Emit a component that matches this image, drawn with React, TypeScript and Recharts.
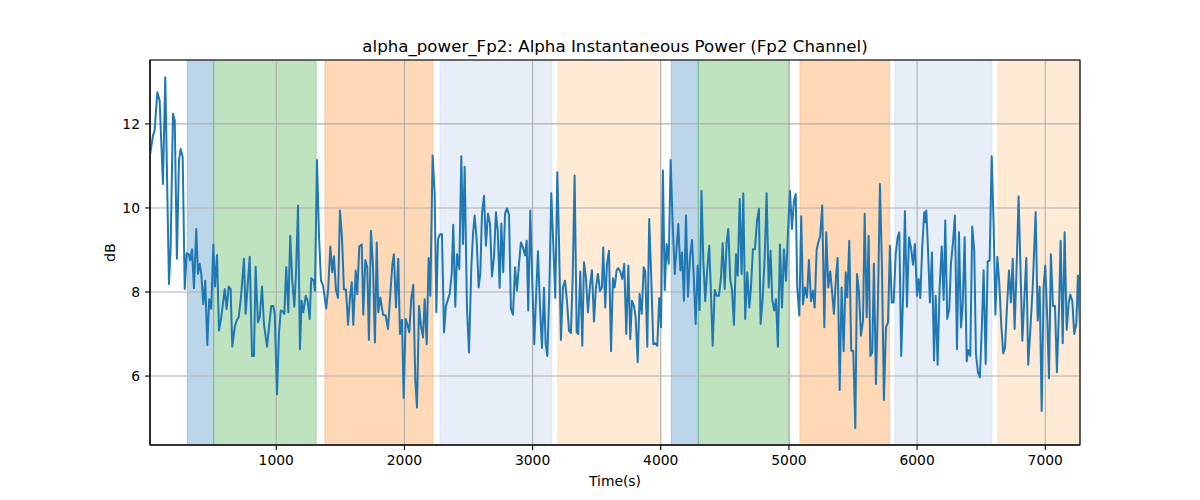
import React from 'react';
import { ComposedChart, Line, XAxis, YAxis, CartesianGrid, ReferenceArea } from 'recharts';

const chartTitle = 'alpha_power_Fp2: Alpha Instantaneous Power (Fp2 Channel)';
const xAxisLabel = 'Time(s)';
const yAxisLabel = 'dB';
const xTicks = [1000, 2000, 3000, 4000, 5000, 6000, 7000];
const yTicks = [6, 8, 10, 12];
const xDomain: [number, number] = [15, 7271];
const yDomain: [number, number] = [4.36, 13.52];

const bandStarts = [306, 512, 1380, 2277, 3198, 4082, 4293, 5086, 5827, 6631];
const bandEnds = [512, 1312, 2220, 3151, 3999, 4293, 5006, 5786, 6584, 7271];
const bandColors = ['#1f77b4', '#2ca02c', '#ff7f0e', '#aec7e8', '#ffbb78', '#1f77b4', '#2ca02c', '#ff7f0e', '#aec7e8', '#ffbb78'];

const timeSec = [
  15, 38, 51, 72, 90, 116, 134, 163, 176, 194,
  208, 225, 241, 254, 270, 286, 301, 317, 329, 343,
  358, 376, 389, 403, 415, 431, 446, 462, 477, 493,
  509, 522, 538, 553, 571, 598, 613, 629, 644, 657,
  676, 691, 707, 722, 735, 748, 761, 793, 811, 826,
  839, 857, 871, 889, 904, 928, 961, 977, 988, 1006,
  1021, 1035, 1050, 1063, 1078, 1094, 1109, 1125, 1141, 1154,
  1170, 1185, 1198, 1211,
  1230, 1245, 1261, 1273, 1292, 1302, 1318, 1333, 1349, 1365,
  1390, 1406, 1422, 1437, 1450, 1466, 1482, 1497, 1513, 1528,
  1544, 1560, 1575, 1589, 1601, 1620, 1632, 1648, 1667, 1679,
  1695, 1710, 1723, 1739, 1755, 1770, 1784, 1796, 1812, 1833,
  1854, 1872, 1890, 1905, 1918, 1934, 1952, 1965, 1981, 1994,
  2010, 2022, 2038, 2053, 2069, 2085, 2098, 2114, 2129, 2145,
  2158, 2174, 2189, 2202, 2220, 2236, 2249, 2262, 2277, 2293,
  2309, 2324, 2353, 2369, 2381, 2397, 2410, 2428,
  2444, 2457, 2470, 2488, 2504, 2522, 2535, 2548, 2564, 2579,
  2592, 2605, 2621, 2636, 2652, 2668, 2683, 2699, 2714, 2728,
  2743, 2756, 2771, 2785, 2800, 2816, 2831, 2847, 2863, 2878,
  2894, 2909, 2925, 2941, 2954, 2966, 2982, 2998, 3013, 3029,
  3042, 3058, 3073, 3089, 3102, 3115, 3130, 3146, 3161, 3177,
  3193, 3206, 3221, 3237, 3253, 3268, 3284, 3299, 3313, 3328,
  3344, 3356, 3372, 3388, 3401, 3416, 3432, 3448, 3463, 3479,
  3494, 3510, 3526, 3541, 3551, 3567, 3580, 3596, 3612, 3627,
  3640, 3656, 3668, 3684, 3700, 3715, 3731, 3747, 3762, 3775,
  3791, 3804, 3820, 3835, 3851, 3867, 3879, 3895, 3910, 3926,
  3942, 3957, 3973, 3988, 4002, 4017, 4031, 4046, 4062, 4077,
  4093, 4109, 4121, 4137, 4153, 4166, 4181, 4197, 4212, 4228,
  4244, 4259, 4272, 4288, 4303, 4318, 4332, 4347, 4363, 4378,
  4392, 4405, 4421, 4436, 4454, 4470, 4483, 4499, 4514, 4527,
  4542, 4556, 4571, 4587, 4600, 4616, 4631, 4644, 4659, 4675,
  4691, 4704, 4719, 4735, 4751, 4766, 4779, 4795, 4811, 4826,
  4842,
  4857, 4870, 4886, 4899, 4914, 4930, 4946, 4961, 4977, 4992,
  5008, 5024, 5039, 5053, 5065, 5081, 5096, 5110, 5125, 5141,
  5156, 5172, 5187, 5201, 5216, 5229, 5244, 5260, 5276, 5291,
  5307, 5322, 5336, 5351, 5367, 5380, 5396, 5411, 5427, 5443,
  5455, 5471, 5486, 5502, 5518, 5531, 5546, 5562, 5578, 5591,
  5607, 5622, 5635, 5650, 5663, 5679, 5695, 5710, 5726, 5741,
  5757, 5773, 5788, 5802, 5817, 5833, 5848, 5861, 5876, 5892,
  5905, 5921, 5937, 5952, 5968, 5983, 5999, 6012, 6025, 6040,
  6056, 6064, 6072,
  6085, 6100, 6116, 6132, 6145, 6160, 6176, 6192, 6207, 6220,
  6235, 6251, 6264, 6280, 6295, 6311, 6327, 6342, 6355, 6371,
  6387, 6399, 6415, 6430, 6446, 6459, 6475, 6490, 6506, 6519,
  6535, 6551, 6566, 6582, 6597, 6611, 6626, 6641, 6657, 6672,
  6686, 6701, 6717, 6732, 6746, 6761, 6777, 6792, 6808, 6821,
  6836, 6852, 6867, 6883, 6902, 6925, 6941, 6956, 6972, 6987,
  7000, 7016, 7029, 7044, 7060, 7076, 7091, 7107, 7120, 7136,
  7151, 7167, 7183, 7195, 7211, 7226, 7242, 7255, 7271,
];

const alphaDb = [
  11.25, 11.72, 11.84, 12.75, 12.56, 10.57, 13.11, 8.19, 9.06, 12.24,
  12.08, 8.79, 11.13, 11.40, 11.21, 8.07, 8.92, 8.90, 8.75, 9.02,
  8.09, 9.50, 8.43, 8.67, 8.43, 7.71, 8.27, 6.74, 7.83, 7.60,
  9.13, 8.13, 8.88, 7.08, 7.40, 8.07, 7.60, 8.13, 8.07, 6.70,
  7.16, 7.32, 7.40, 7.79, 8.27, 8.79, 7.48, 8.84, 6.48, 6.48,
  8.60, 7.28, 7.40, 8.13, 7.24, 6.70, 7.67, 7.67, 7.48, 5.57,
  7.00, 7.56, 7.54, 7.48, 8.59, 7.52, 9.34, 8.27, 7.65, 8.43,
  10.06, 6.64, 7.79, 7.52,
  7.91, 7.79, 7.36, 8.33, 8.27, 8.03, 11.14, 9.38, 8.27, 8.15,
  7.61, 8.11, 9.08, 8.47, 8.85, 8.05, 7.86, 9.94, 9.30, 8.06,
  8.06, 7.22, 7.86, 8.23, 7.22, 8.51, 7.95, 9.08, 9.13, 7.46,
  8.76, 8.59, 6.86, 9.46, 8.59, 6.80, 9.18, 7.52, 7.87, 7.46,
  7.44, 7.12, 7.95, 8.63, 8.90, 7.63, 8.79, 7.00, 7.34, 5.48,
  7.36, 7.24, 7.04, 7.83, 8.17, 5.89, 5.25, 7.67, 7.20, 6.92,
  7.83, 6.76, 8.81, 7.91, 11.25, 10.33, 7.52, 9.26, 9.37, 9.38,
  7.04, 7.67, 7.95, 8.43, 9.60, 7.65, 8.90, 8.55,
  11.23, 9.14, 10.98, 7.63, 6.56, 8.59, 9.38, 9.82, 9.22, 8.11,
  8.43, 9.86, 10.29, 9.10, 9.87, 9.62, 8.37, 8.83, 9.90, 9.46,
  8.10, 9.63, 8.47, 9.86, 9.99, 9.84, 7.60, 7.46, 8.59, 8.03,
  8.67, 9.18, 9.06, 8.87, 9.22, 7.56, 9.94, 8.19, 6.76, 8.03,
  8.97, 7.63, 6.67, 8.10, 6.76, 6.48, 7.95, 10.35, 9.18, 7.86,
  10.85, 9.22, 6.86, 8.11, 8.27, 7.79, 7.08, 7.02, 8.35, 10.77,
  7.04, 7.00, 8.49, 6.72, 8.71, 8.35, 7.52, 8.15, 8.52, 7.30,
  8.11, 8.43, 8.02, 8.11, 9.06, 7.63, 8.65, 8.98, 6.59, 8.33,
  8.11, 8.52, 8.57, 8.49, 8.31, 8.67, 7.00, 8.63, 6.88, 7.79,
  7.67, 7.40, 6.33, 7.95, 7.48, 8.59, 8.49, 6.70, 9.74, 8.31,
  6.76, 6.78, 6.72, 7.86, 7.16, 10.89, 8.05, 9.14, 8.67, 11.14,
  9.62, 8.43, 8.94, 9.62, 8.51, 8.94, 7.79, 9.82, 7.89, 8.83,
  9.24, 8.27, 7.24, 8.63, 7.57, 10.41, 8.75, 7.78, 8.55, 9.10,
  7.95, 6.72, 8.05, 7.91, 7.91, 8.35, 9.16, 8.07, 9.18, 9.50,
  8.31, 8.05, 7.22, 8.90, 8.39, 10.21, 8.43, 10.35, 7.36, 8.47,
  7.63, 8.11, 9.02, 9.02, 9.70, 9.98, 7.24, 7.83, 8.83, 10.35,
  8.11,
  8.98, 7.81, 7.56, 7.83, 6.70, 9.13, 7.63, 9.02, 8.27, 9.38,
  10.41, 9.50, 10.17, 10.33, 8.11, 7.44, 9.80, 7.71, 8.11, 7.87,
  8.76, 7.78, 8.03, 7.63, 9.00, 9.18, 9.34, 10.06, 7.16, 9.42,
  8.11, 8.49, 8.03, 7.48, 8.35, 8.81, 5.67, 8.11, 6.59, 8.47,
  7.87, 9.22, 6.60, 6.60, 4.76, 8.43, 8.03, 6.96, 7.32, 9.86,
  7.40, 9.34, 6.48, 6.56, 8.67, 5.81, 7.79, 10.57, 8.59, 5.43,
  7.16, 7.28, 9.10, 7.75, 7.75, 8.90, 9.30, 9.42, 6.48, 8.03,
  9.92, 7.65, 9.30, 9.06, 8.65, 9.14, 7.91, 8.31, 7.86, 9.06,
  9.90, 9.66, 9.94,
  9.02, 7.75, 8.94, 6.37, 7.91, 6.27, 8.11, 9.08, 7.81, 9.70,
  7.36, 7.60, 8.67, 9.18, 9.82, 6.64, 9.42, 7.16, 7.63, 9.30,
  6.35, 6.62, 6.48, 9.56, 8.98, 6.52, 6.09, 5.97, 7.24, 8.52,
  6.29, 8.73, 8.75, 11.23, 9.62, 7.46, 8.84, 8.23, 7.20, 6.54,
  6.68, 7.63, 8.51, 7.75, 8.79, 7.12, 8.65, 10.27, 8.39, 6.84,
  7.79, 8.81, 6.27, 7.08, 8.11, 9.90, 7.32, 8.13, 5.17, 8.11,
  8.63, 7.32, 5.95, 8.90, 7.67, 7.67, 6.09, 7.56, 9.22, 6.78,
  9.42, 7.10, 7.75, 7.94, 7.79, 7.00, 7.24, 8.39, 7.16,
];

const data = timeSec.map((t, i) => ({ t, v: alphaDb[i] }));

const FONT = 'DejaVu Sans, sans-serif';

export default function App() {
  return (
    <div style={{ position: 'absolute', left: 0, top: 0, width: 1200, height: 500, background: '#fff' }}>
      <svg width={1200} height={60} style={{ position: 'absolute', left: 0, top: 0 }}>
        <text x={615} y={51.7} textAnchor="middle" fontFamily={FONT} fontSize={16.67} fill="#000">
          {chartTitle}
        </text>
      </svg>
      <ComposedChart
        width={1200}
        height={500}
        data={data}
        margin={{ top: 60, right: 120, bottom: 0, left: 0 }}
      >
        {bandStarts.map((s, i) => (
          <ReferenceArea
            key={`band-${i}`}
            x1={s}
            x2={bandEnds[i]}
            fill={bandColors[i]}
            fillOpacity={0.3}
            stroke={bandColors[i]}
            strokeOpacity={0.3}
            strokeWidth={1}
            ifOverflow="hidden"
            zIndex={-200}
          />
        ))}
        <CartesianGrid stroke="#b0b0b0" strokeWidth={1.1} zIndex={-100} />
        <XAxis
          dataKey="t"
          type="number"
          domain={xDomain}
          allowDataOverflow
          ticks={xTicks}
          height={55}
          tickSize={5}
          tickMargin={5}
          stroke="#000"
          tickLine={{ stroke: '#000', strokeWidth: 1.1 }}
          axisLine={{ stroke: '#000', strokeWidth: 1.1 }}
          tick={{ fill: '#000', fontSize: 13.89, fontFamily: FONT }}
          label={{ value: xAxisLabel, position: 'insideBottom', offset: 14, fill: '#000', fontSize: 13.89, fontFamily: FONT }}
        />
        <YAxis
          type="number"
          domain={yDomain}
          allowDataOverflow
          ticks={yTicks}
          width={150}
          tickSize={5}
          tickMargin={5}
          stroke="#000"
          tickLine={{ stroke: '#000', strokeWidth: 1.1 }}
          axisLine={{ stroke: '#000', strokeWidth: 1.1 }}
          tick={{ fill: '#000', fontSize: 13.89, fontFamily: FONT }}
          label={{ value: yAxisLabel, angle: -90, position: 'center', dx: 35, fill: '#000', fontSize: 13.89, fontFamily: FONT }}
        />
        <Line
          type="linear"
          dataKey="v"
          stroke="#1f77b4"
          strokeWidth={2}
          dot={false}
          activeDot={false}
          strokeLinejoin="round"
          isAnimationActive={false}
        />
        <ReferenceArea
          x1={xDomain[0]}
          x2={xDomain[1]}
          y1={yDomain[0]}
          y2={yDomain[1]}
          fill="none"
          stroke="#000"
          strokeWidth={1.1}
          ifOverflow="visible"
        />
      </ComposedChart>
    </div>
  );
}
